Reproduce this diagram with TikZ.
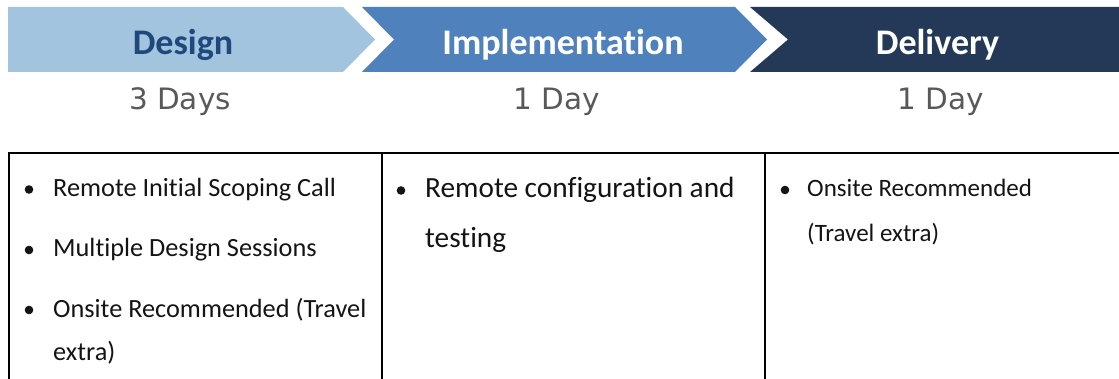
\documentclass[tikz,border=0pt]{standalone}
\usepackage{fontspec}
\setmainfont{Carlito}[Ligatures=NoCommon]
\newfontfamily\daysfont{DejaVu Sans}
\definecolor{designfill}{RGB}{162,196,223}
\definecolor{implfill}{RGB}{79,129,189}
\definecolor{delivfill}{RGB}{36,57,88}
\definecolor{designtext}{RGB}{31,73,125}
\definecolor{daysgray}{RGB}{89,89,89}
\definecolor{bodytext}{RGB}{20,20,20}
\tikzset{
  phase/.style={anchor=base, font=\fontsize{36}{40}\selectfont\bfseries, inner sep=0pt},
  days/.style={anchor=base, font=\daysfont\fontsize{29.5}{34}\selectfont, text=daysgray, inner sep=0pt},
  bodyline/.style={anchor=base west, inner sep=0pt, text=bodytext, font=\fontsize{26.3}{30}\selectfont},
  bodylinebig/.style={anchor=base west, inner sep=0pt, text=bodytext, font=\fontsize{29.3}{34}\selectfont},
  bodylinesmall/.style={anchor=base west, inner sep=0pt, text=bodytext, font=\fontsize{25}{30}\selectfont},
  bulletdot/.style={circle, fill=bodytext, inner sep=0pt, minimum size=8.6pt},
  tableline/.style={line width=2pt, black},
}
\begin{document}
\begin{tikzpicture}[x=1pt,y=-1pt]
\useasboundingbox (0,0) rectangle (1119,379);
% chevrons
\fill[designfill] (8,7) -- (343,7) -- (375,39.5) -- (343,72) -- (8,72) -- cycle;
\fill[implfill] (362,7) -- (735,7) -- (767,39.5) -- (735,72) -- (362,72) -- (394,39.5) -- cycle;
\fill[delivfill] (750,7) -- (1119,7) -- (1119,72) -- (750,72) -- (788,39.5) -- cycle;
% phase titles
\node[phase, text=designtext] (design) at (183,55) {Design};
\node[phase, text=white] (impl) at (563,55) {Implementation};
\node[phase, text=white] (deliv) at (937.5,55) {Delivery};
% durations
\node[days] (d1) at (180,110) {3 Days};
\node[days] (d2) at (557,110) {1 Day};
\node[days] (d3) at (941,110) {1 Day};
% table
\draw[tableline] (9,379) -- (9,153.5) -- (1120,153.5);
\draw[tableline] (381.5,153.5) -- (381.5,379);
\draw[tableline] (764.5,153.5) -- (764.5,379);
% column 1
\node[bulletdot] (b11) at (29,189.5) {};
\node[bodyline] (c11) at (53,196.5) {Remote Initial Scoping Call};
\node[bulletdot] (b12) at (29,250) {};
\node[bodyline] (c12) at (53,257) {Multiple Design Sessions};
\node[bulletdot] (b13) at (29,310) {};
\node[bodyline] (c13) at (53,317) {Onsite Recommended (Travel};
\node[bodyline] (c14) at (53,360) {extra)};
% column 2
\node[bulletdot] (b21) at (401,190.5) {};
\node[bodylinebig] (c21) at (425,197.5) {Remote configuration and};
\node[bodylinebig] (c22) at (425,247.5) {testing};
% column 3
\node[bulletdot] (b31) at (785,190) {};
\node[bodylinesmall] (c31) at (807,196.5) {Onsite Recommended};
\node[bodylinesmall] (c32) at (807,241.5) {(Travel extra)};
\end{tikzpicture}
\end{document}
